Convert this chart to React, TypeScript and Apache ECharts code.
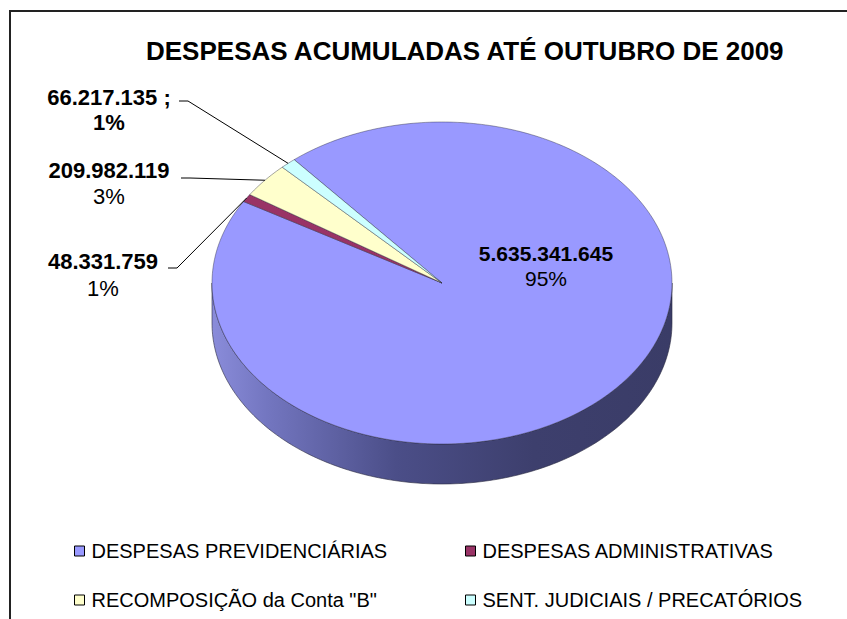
import React, { useEffect, useRef } from 'react';
import * as echarts from 'echarts';

const titleText = 'DESPESAS ACUMULADAS ATÉ OUTUBRO DE 2009';
const categories = [
  'DESPESAS PREVIDENCIÁRIAS',
  'DESPESAS ADMINISTRATIVAS',
  'RECOMPOSIÇÃO da Conta "B"',
  'SENT. JUDICIAIS / PRECATÓRIOS',
];
const values = [5635341645, 48331759, 209982119, 66217135];
const colors = ['#9999FF', '#993366', '#FFFFCC', '#CCFFFF'];
const legendCol1 = [categories[0], categories[2]];
const legendCol2 = [categories[1], categories[3]];

const FONT = '"Liberation Sans", Arial, Helvetica, sans-serif';

const fmt = (v: number) => String(Math.round(v)).replace(/\B(?=(\d{3})+(?!\d))/g, '.');

// largest-remainder percentages (as the spreadsheet shows them)
const percents = (vals: number[]) => {
  const total = vals.reduce((a, b) => a + b, 0);
  const raw = vals.map((v) => (v / total) * 100);
  const out = raw.map((r) => Math.floor(r));
  const rest = 100 - out.reduce((a, b) => a + b, 0);
  const order = raw.map((r, i) => [r - out[i], i]).sort((a, b) => b[0] - a[0]);
  for (let k = 0; k < rest; k++) out[order[k][1]] += 1;
  return out;
};

// ---- layout of the tilted pie ----
const CX = 442;
const CY = 283;
const RX = 230;
const RY = 161;
const DEPTH = 40;
const START = -40; // degrees, clockwise from 12 o'clock

// label text anchors (layout only)
const labelPlaces: any[] = [
  { x: 546, y1: 253, y2: 278, size: 21, bold2: false },
  { x: 103, y1: 261, y2: 288, size: 22, bold2: false, bend: [[177, 268], [168, 268]] },
  { x: 109, y1: 170, y2: 196, size: 22, bold2: false, bend: [[190, 178], [181, 178]] },
  { x: 109, y1: 97, y2: 122, size: 22, bold2: true, sep: ' ;', bend: [[188, 101], [179, 101]] },
];

const TOTAL = values.reduce((a, b) => a + b, 0);
const cumBefore = values.map((_, i) => values.slice(0, i).reduce((a, b) => a + b, 0));
const pcts = percents(values);

const pt = (deg: number, dy = 0) => {
  const r = (deg * Math.PI) / 180;
  return [CX + RX * Math.sin(r), CY - RY * Math.cos(r) + dy];
};

const arc = (a: number, b: number, dy = 0) => {
  const pts: number[][] = [];
  const n = Math.max(2, Math.ceil(Math.abs(b - a)));
  for (let k = 0; k <= n; k++) pts.push(pt(a + ((b - a) * k) / n, dy));
  return pts;
};

const sideFill = {
  type: 'linear',
  x: CX - RX,
  y: 0,
  x2: CX + RX,
  y2: 0,
  global: true,
  colorStops: [
    { offset: 0, color: '#8A8CDA' },
    { offset: 0.12, color: '#7376C0' },
    { offset: 0.4, color: '#4B4E88' },
    { offset: 0.7, color: '#3D3F6D' },
    { offset: 1, color: '#3A3C67' },
  ],
};

function renderSlice(i: number, v: number) {
  const a0 = START + (cumBefore[i] / TOTAL) * 360;
  const a1 = a0 + (v / TOTAL) * 360;
  const children: any[] = [];
  // front side (visible between 90° and 270°)
  for (const k of [-1, 0, 1]) {
    const s = Math.max(a0, 90 + 360 * k);
    const e = Math.min(a1, 270 + 360 * k);
    if (e > s) {
      const pts = arc(s, e, 0).concat(arc(e, s, DEPTH));
      children.push({
        type: 'polygon',
        shape: { points: pts },
        style: { fill: sideFill, stroke: '#2a2a40', lineWidth: 0.6 },
      });
    }
  }
  // top face
  children.push({
    type: 'polygon',
    shape: { points: [[CX, CY]].concat(arc(a0, a1, 0)) },
    style: { fill: colors[i], stroke: 'rgba(40,40,60,0.6)', lineWidth: 0.7 },
  });
  // label
  const place = labelPlaces[i];
  const mid = (a0 + a1) / 2;
  if (place.bend) {
    const rim = pt(mid);
    children.push({
      type: 'polyline',
      shape: { points: [rim, place.bend[0], place.bend[1]] },
      style: { stroke: '#000', lineWidth: 1, fill: null },
    });
  }
  const line1 = fmt(v) + (place.sep || '');
  const line2 = pcts[i] + '%';
  children.push({
    type: 'text',
    style: {
      text: line1,
      x: place.x,
      y: place.y1,
      align: 'center',
      verticalAlign: 'middle',
      textAlign: 'center',
      textVerticalAlign: 'middle',
      font: `bold ${place.size}px ${FONT}`,
      fill: '#000',
    },
  });
  children.push({
    type: 'text',
    style: {
      text: line2,
      x: place.x,
      y: place.y2,
      align: 'center',
      verticalAlign: 'middle',
      textAlign: 'center',
      textVerticalAlign: 'middle',
      font: `${place.bold2 ? 'bold ' : ''}${place.size}px ${FONT}`,
      fill: '#000',
    },
  });
  return { type: 'group', children };
}

const legendBase = {
  orient: 'vertical',
  top: 536,
  itemGap: 29,
  itemWidth: 10,
  itemHeight: 10,
  icon: 'rect',
  selectedMode: false,
  itemStyle: { borderColor: '#000', borderWidth: 1 },
  textStyle: { fontFamily: FONT, fontSize: 20, color: '#000', padding: [0, 0, 0, 2] },
};

export default function App() {
  const ref = useRef<HTMLDivElement>(null);
  useEffect(() => {
    document.body.style.margin = '0';
    if (!ref.current) return;
    const chart = echarts.init(ref.current, undefined, { renderer: 'svg' });
    const option: any = {
      animation: false,
      backgroundColor: '#ffffff',
      title: {
        text: titleText,
        left: 141,
        top: 33,
        textStyle: { fontFamily: FONT, fontSize: 26, fontWeight: 'bold', color: '#000' },
      },
      legend: [
        { ...legendBase, data: legendCol1, left: 69 },
        { ...legendBase, data: legendCol2, left: 460 },
      ],
      graphic: [
        {
          type: 'rect',
          z: -10,
          silent: true,
          shape: { x: 10, y: 11, width: 950, height: 700 },
          style: { fill: 'none', stroke: '#222', lineWidth: 2 },
        },
      ],
      series: categories.map((name, i) => ({
        type: 'custom',
        name,
        coordinateSystem: 'none',
        silent: true,
        itemStyle: { color: colors[i] },
        data: [[values[i]]],
        renderItem: (_params: any, api: any) => renderSlice(i, api.value(0)),
      })),
    };
    chart.setOption(option);
    return () => chart.dispose();
  }, []);
  return <div ref={ref} style={{ width: 847, height: 619 }} />;
}
